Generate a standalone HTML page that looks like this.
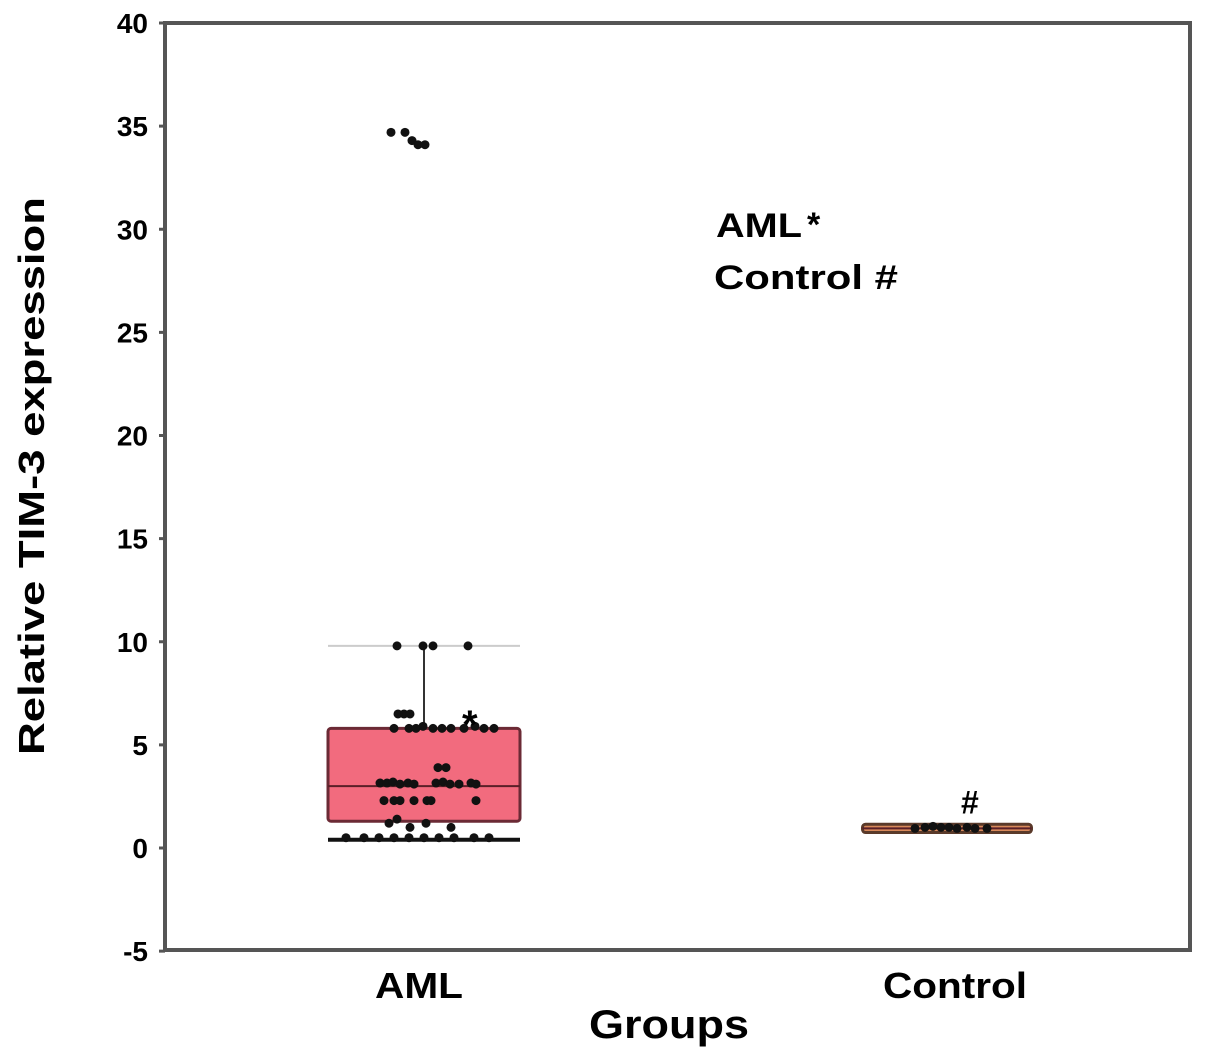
<!DOCTYPE html>
<html><head><meta charset="utf-8"><style>
html,body{margin:0;padding:0;background:#fff;}
svg{display:block;font-family:"Liberation Sans",Arial,sans-serif;font-weight:bold;}
</style></head><body>
<svg id="chart" width="1205" height="1061" viewBox="0 0 1205 1061">
<g id="axes"></g><g id="marks"></g>
<text x="716" y="237" font-size="34" textLength="86" lengthAdjust="spacingAndGlyphs">AML</text>
<text x="807" y="236" font-size="34">*</text>
<text x="714" y="289" font-size="34" textLength="184" lengthAdjust="spacingAndGlyphs">Control #</text>
<text x="375" y="998" font-size="36" textLength="88" lengthAdjust="spacingAndGlyphs">AML</text>
<text x="883" y="998" font-size="36" textLength="144" lengthAdjust="spacingAndGlyphs">Control</text>
<text x="589" y="1038" font-size="40" textLength="160" lengthAdjust="spacingAndGlyphs">Groups</text>
<text transform="translate(44,476) rotate(-90)" text-anchor="middle" font-size="36" textLength="558" lengthAdjust="spacingAndGlyphs">Relative TIM-3 expression</text>
</svg>
<script>
const yTicks=[40,35,30,25,20,15,10,5,0,-5];
const groups=["AML","Control"];
const q1=[1.3,0.75],median=[3.0,0.95],q3=[5.8,1.15],whiskerHi=[9.8,1.2],whiskerLo=[0.4,0.7];
const amlOffsets=[-30,-15,-8,-1,9,18,27,40,51,60,70,-20,-14,-26,14,22,-44,-37,-31,-24,-16,-10,12,19,26,35,47,52,-40,-30,-24,-10,3,7,52,-35,-27,-14,2,27,-78,-60,-45,-30,-15,0,15,30,50,65,-27,-1,9,44];
const amlValues=[5.8,5.8,5.8,5.9,5.8,5.8,5.8,5.8,5.9,5.8,5.8,6.5,6.5,6.5,3.9,3.9,3.15,3.15,3.2,3.1,3.15,3.1,3.15,3.2,3.1,3.1,3.15,3.1,2.3,2.3,2.3,2.3,2.3,2.3,2.3,1.2,1.4,1.0,1.2,1.0,0.5,0.5,0.5,0.5,0.5,0.5,0.5,0.5,0.5,0.5,9.8,9.8,9.8,9.8];
const outOffsets=[-33,-19,-12,-6,1];
const outValues=[34.7,34.7,34.3,34.1,34.1];
const ctlOffsets=[-32,-22,-14,-6,2,10,20,28,40];
const ctlValues=[0.95,1.0,1.05,1.0,1.0,0.95,1.0,0.95,0.95];
const X0=165,X1=1190,Y0=23,Y1=950;
function y(v){return 848-v*20.625;}
const gx=[424,947],gw=[192,169];
const NS="http://www.w3.org/2000/svg";
function mk(p,t,a){const e=document.createElementNS(NS,t);for(const k in a)e.setAttribute(k,a[k]);p.appendChild(e);return e;}
const ax=document.getElementById('axes'),mk2=document.getElementById('marks');
let fr=mk(ax,'rect',{x:X0,y:Y0,width:X1-X0,height:Y1-Y0,fill:'none',stroke:'#555',"stroke-width":4});

yTicks.forEach(t=>{
 let l=mk(ax,'line',{x1:X0-6,x2:X0,y1:y(t),y2:y(t),stroke:'#555',"stroke-width":3});
 
 let tx=mk(ax,'text',{x:148,y:y(t)+10,"text-anchor":"end","font-size":28});tx.textContent=t;
 
});
groups.forEach((g,i)=>{
 const cx=gx[i],w=gw[i],L=cx-w/2;
 if(i===0){
  let c=mk(mk2,'line',{x1:L,x2:L+w,y1:y(whiskerHi[i]),y2:y(whiskerHi[i]),stroke:'#ccc',"stroke-width":2});
  
  let wl=mk(mk2,'line',{x1:cx,x2:cx,y1:y(whiskerHi[i]),y2:y(q3[i]),stroke:'#333',"stroke-width":2});
  
  let lo=mk(mk2,'line',{x1:L,x2:L+w,y1:y(whiskerLo[i]),y2:y(whiskerLo[i]),stroke:'#111',"stroke-width":4});
  
 }
 let b=mk(mk2,'rect',{x:L,y:y(q3[i]),width:w,height:y(q1[i])-y(q3[i]),fill:i?'#d8895a':'#f26b7e',stroke:i?'#5a3a2a':'#6b2a35',"stroke-width":3,rx:3});
 
 let m=mk(mk2,'line',{x1:L,x2:L+w,y1:y(median[i]),y2:y(median[i]),stroke:'#5a1f28',"stroke-width":2});
 
});
function pts(offs,vals,cx,nm){offs.forEach((o,k)=>{let c=mk(mk2,'circle',{cx:cx+o,cy:y(vals[k]),r:4.5,fill:'#111'});
 });}
pts(amlOffsets,amlValues,gx[0],'aml-point');
pts(outOffsets,outValues,gx[0],'aml-outlier');
pts(ctlOffsets,ctlValues,gx[1],'control-point');
let s=mk(mk2,'text',{x:462,y:y(6.1)+16,"font-size":40});s.textContent='*';

let h=mk(mk2,'text',{x:961,y:y(2.3)+13,"font-size":32});h.textContent='#';

</script>
</body></html>
